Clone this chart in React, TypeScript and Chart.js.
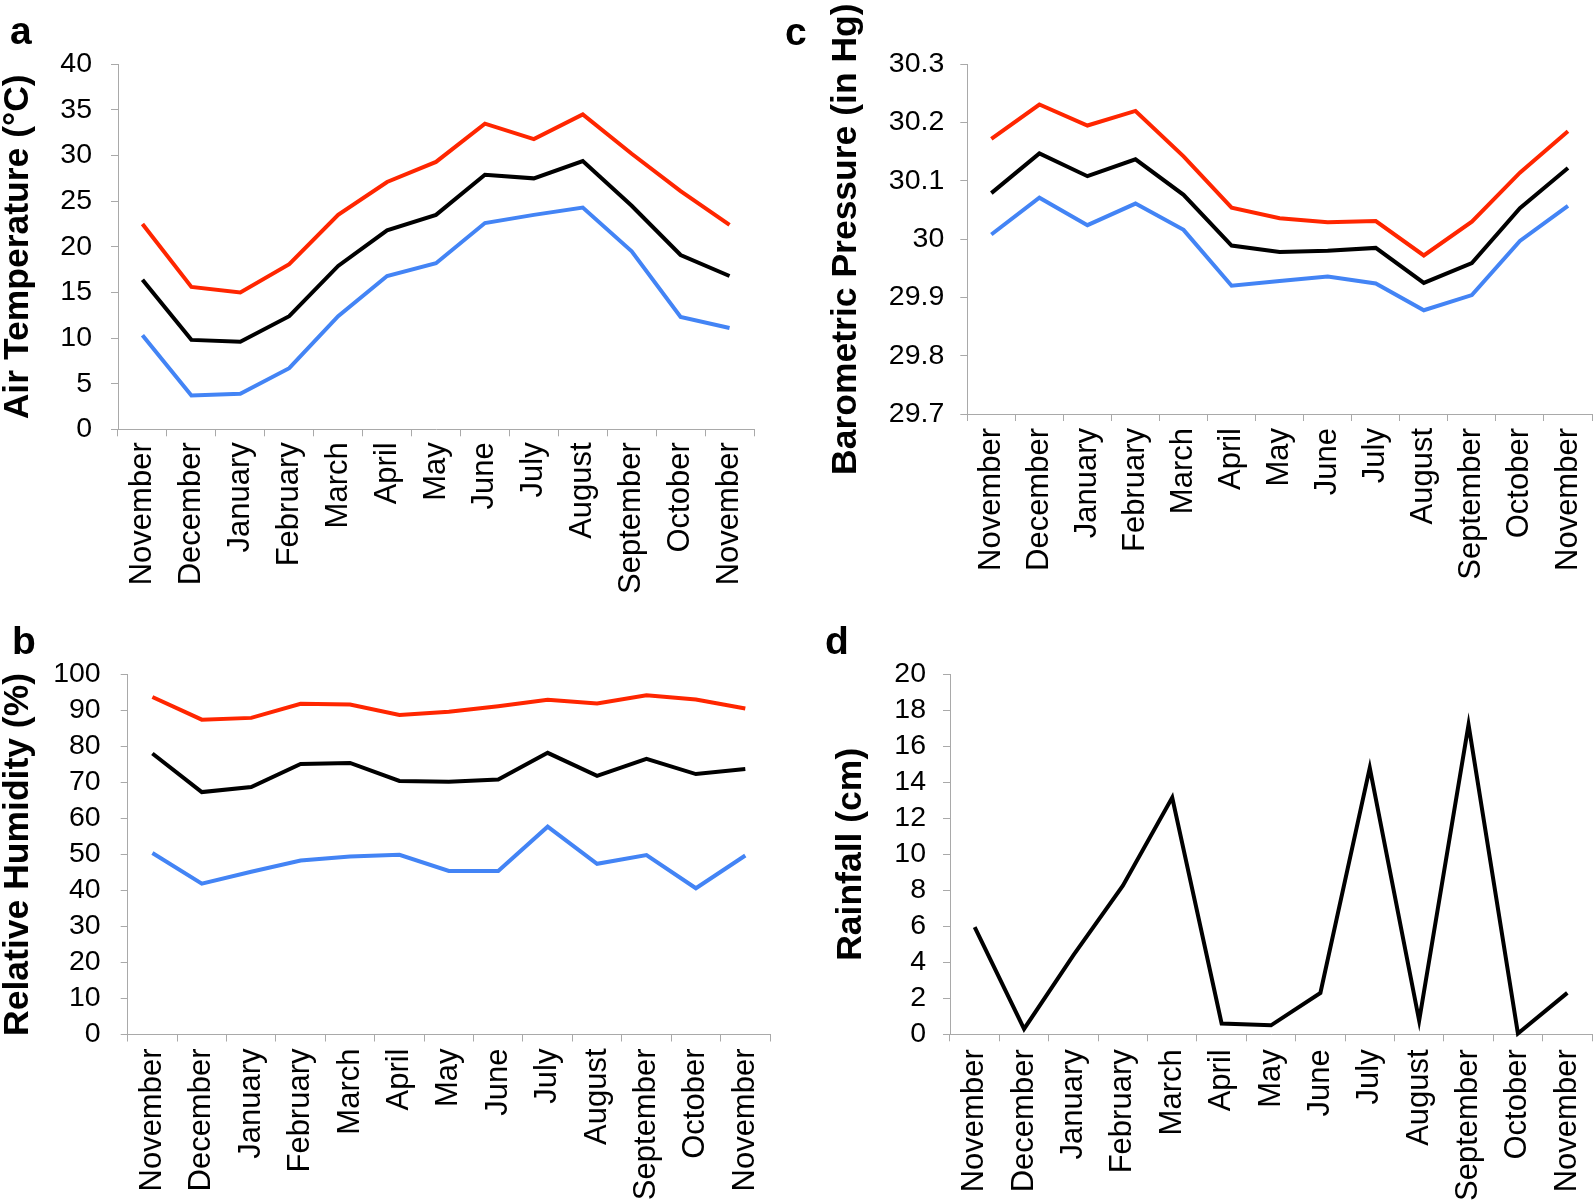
import React, { useEffect, useRef } from 'react';
import { Chart, registerables } from 'chart.js';

Chart.register(...registerables);

// ---------- data ----------
const months = [
  'November', 'December', 'January', 'February', 'March', 'April', 'May',
  'June', 'July', 'August', 'September', 'October', 'November',
];

const tempMax = [22.5, 15.6, 15.0, 18.1, 23.5, 27.1, 29.3, 33.5, 31.8, 34.5, 30.2, 26.1, 22.4];
const tempMean = [16.4, 9.8, 9.6, 12.4, 17.9, 21.8, 23.5, 27.9, 27.5, 29.4, 24.5, 19.1, 16.8];
const tempMin = [10.3, 3.7, 3.9, 6.7, 12.4, 16.8, 18.2, 22.6, 23.5, 24.3, 19.5, 12.3, 11.1];

const humMax = [93.7, 87.4, 87.9, 91.8, 91.6, 88.7, 89.6, 91.1, 92.9, 91.9, 94.2, 93.0, 90.5];
const humMean = [78.0, 67.3, 68.7, 75.1, 75.4, 70.4, 70.2, 70.8, 78.2, 71.8, 76.5, 72.3, 73.7];
const humMin = [50.4, 41.9, 45.2, 48.3, 49.4, 49.9, 45.4, 45.4, 57.7, 47.4, 49.8, 40.6, 49.7];

const pressMax = [30.172, 30.231, 30.195, 30.220, 30.142, 30.054, 30.036, 30.029, 30.031, 29.972, 30.030, 30.114, 30.185];
const pressMean = [30.079, 30.147, 30.108, 30.137, 30.076, 29.989, 29.978, 29.980, 29.985, 29.925, 29.959, 30.053, 30.122];
const pressMin = [30.008, 30.071, 30.024, 30.061, 30.016, 29.920, 29.928, 29.936, 29.924, 29.878, 29.904, 29.997, 30.057];

const rainfall = [5.96, 0.3, 4.4, 8.26, 13.15, 0.6, 0.5, 2.3, 14.8, 0.76, 17.2, 0.04, 2.3];

const tempTicks = [0, 5, 10, 15, 20, 25, 30, 35, 40];
const humTicks = [0, 10, 20, 30, 40, 50, 60, 70, 80, 90, 100];
const pressTicks = [29.7, 29.8, 29.9, 30.0, 30.1, 30.2, 30.3];
const rainTicks = [0, 2, 4, 6, 8, 10, 12, 14, 16, 18, 20];

// ---------- styles ----------
const FONT = "'Liberation Sans', Arial, Helvetica, sans-serif";
const RED = '#ff2600';
const BLACK = '#000000';
const BLUE = '#4384f5';
const AXIS = '#a9a9a9';

type Series = { data: number[]; color: string };

type PanelProps = {
  left: number;
  top: number;
  width: number;
  height: number;
  yTitle: string;
  series: Series[];
  yTicks: number[];
  yAxisWidth: number;
  padLeft: number;
  padTop: number;
  padRight: number;
  xHeight: number;
  yPad: number;
  xPad: number;
};

function Panel(p: PanelProps) {
  const ref = useRef<HTMLCanvasElement | null>(null);
  useEffect(() => {
    if (!ref.current) return;
    const ticks = p.yTicks;
    const chart = new Chart(ref.current, {
      type: 'line',
      data: {
        labels: months,
        datasets: p.series.map((s) => ({
          data: s.data,
          borderColor: s.color,
          backgroundColor: s.color,
          borderWidth: 4,
          pointRadius: 0,
          tension: 0,
          fill: false,
          clip: false as any,
        })),
      },
      options: {
        responsive: false,
        animation: false,
        events: [],
        layout: { padding: { left: p.padLeft, top: p.padTop, right: p.padRight, bottom: 0 } },
        plugins: { legend: { display: false }, tooltip: { enabled: false }, title: { display: false } },
        scales: {
          x: {
            type: 'category',
            offset: true,
            grid: {
              display: true,
              offset: true,
              drawOnChartArea: false,
              drawTicks: true,
              tickLength: 7,
              color: AXIS,
              lineWidth: 1,
            },
            border: { display: true, color: AXIS, width: 1 },
            ticks: {
              autoSkip: false,
              minRotation: 90,
              maxRotation: 90,
              padding: p.xPad,
              color: '#000',
              font: { family: FONT, size: 31 },
            },
            afterFit: (s: any) => {
              s.height = p.xHeight;
              s.paddingLeft = 0;
              s.paddingRight = 0;
            },
          },
          y: {
            type: 'linear',
            min: ticks[0],
            max: ticks[ticks.length - 1],
            afterBuildTicks: (s: any) => {
              s.ticks = ticks.map((v) => ({ value: v }));
            },
            grid: {
              display: true,
              drawOnChartArea: false,
              drawTicks: true,
              tickLength: 7,
              color: AXIS,
              lineWidth: 1,
            },
            border: { display: true, color: AXIS, width: 1 },
            ticks: {
              autoSkip: false,
              padding: p.yPad,
              color: '#000',
              font: { family: FONT, size: 28.5 },
              callback: (v: any) => String(Math.round(Number(v) * 10) / 10),
            },
            title: {
              display: true,
              text: p.yTitle,
              color: '#000',
              padding: 0,
              font: { family: FONT, size: 35.5, weight: 'bold', lineHeight: 1 },
            },
            afterFit: (s: any) => {
              s.width = p.yAxisWidth;
            },
          },
        },
      } as any,
    });
    return () => chart.destroy();
  }, []);
  return (
    <canvas
      ref={ref}
      width={p.width}
      height={p.height}
      style={{ position: 'absolute', left: p.left, top: p.top, width: p.width, height: p.height }}
    />
  );
}

const letterStyle = (left: number, top: number): React.CSSProperties => ({
  position: 'absolute',
  left,
  top,
  fontFamily: FONT,
  fontWeight: 'bold',
  fontSize: 39,
  lineHeight: '40px',
  color: '#000',
});

export default function App() {
  return (
    <div style={{ position: 'absolute', left: 0, top: 0, width: 1595, height: 1204, background: '#fff', overflow: 'hidden' }}>
      <Panel
        left={0} top={0} width={790} height={610}
        yTitle="Air Temperature (°C)"
        series={[{ data: tempMax, color: RED }, { data: tempMean, color: BLACK }, { data: tempMin, color: BLUE }]}
        yTicks={tempTicks}
        yAxisWidth={118} padLeft={0} padTop={64.3} padRight={36} xHeight={180.7} yPad={19} xPad={6}
      />
      <Panel
        left={0} top={610} width={790} height={594}
        yTitle="Relative Humidity (%)"
        series={[{ data: humMax, color: RED }, { data: humMean, color: BLACK }, { data: humMin, color: BLUE }]}
        yTicks={humTicks}
        yAxisWidth={127.7} padLeft={0} padTop={64.3} padRight={20} xHeight={169.5} yPad={20} xPad={7}
      />
      <Panel
        left={790} top={0} width={805} height={610}
        yTitle="Barometric Pressure (in Hg)"
        series={[{ data: pressMax, color: RED }, { data: pressMean, color: BLACK }, { data: pressMin, color: BLUE }]}
        yTicks={pressTicks}
        yAxisWidth={138.8} padLeft={38.5} padTop={64.3} padRight={3} xHeight={196} yPad={16} xPad={7}
      />
      <Panel
        left={790} top={610} width={805} height={594}
        yTitle="Rainfall (cm)"
        series={[{ data: rainfall, color: BLACK }]}
        yTicks={rainTicks}
        yAxisWidth={117} padLeft={43} padTop={64.3} padRight={3} xHeight={169.7} yPad={17} xPad={8}
      />
      <div style={letterStyle(10, 11)}>a</div>
      <div style={letterStyle(12, 621)}>b</div>
      <div style={letterStyle(785, 12)}>c</div>
      <div style={letterStyle(825, 621)}>d</div>
    </div>
  );
}
